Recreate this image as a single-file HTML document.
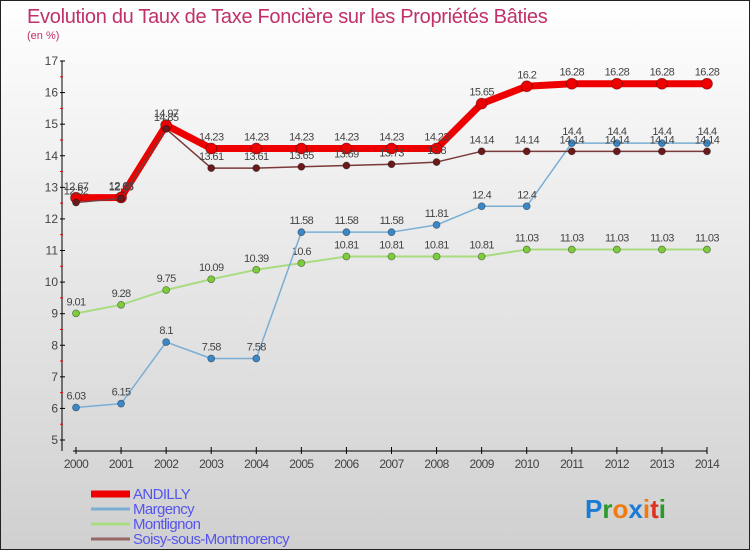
<!DOCTYPE html>
<html><head><meta charset="utf-8"><style>
body{margin:0;}
#c{width:750px;height:550px;position:relative;box-sizing:border-box;border:1px solid #222;background:linear-gradient(#ffffff,#f0f0f0 30%,#d0d0d0);font-family:"Liberation Sans",sans-serif;overflow:hidden}
</style></head><body>
<div id="c">
<svg id="s" width="750" height="550"></svg>
</div>
<script>
const years=[2000,2001,2002,2003,2004,2005,2006,2007,2008,2009,2010,2011,2012,2013,2014];
const yTicks=[5,6,7,8,9,10,11,12,13,14,15,16,17];
const andilly=[12.67,12.68,14.97,14.23,14.23,14.23,14.23,14.23,14.23,15.65,16.2,16.28,16.28,16.28,16.28];
const margency=[6.03,6.15,8.1,7.58,7.58,11.58,11.58,11.58,11.81,12.4,12.4,14.4,14.4,14.4,14.4];
const montlignon=[9.01,9.28,9.75,10.09,10.39,10.6,10.81,10.81,10.81,10.81,11.03,11.03,11.03,11.03,11.03];
const soisy=[12.52,12.65,14.85,13.61,13.61,13.65,13.69,13.73,13.8,14.14,14.14,14.14,14.14,14.14,14.14];
const NS="http://www.w3.org/2000/svg";
const svg=document.getElementById('s');
const X=i=>75+i*(706-75)/14;
const Y=v=>439-(v-5)*(439-60)/12;
function el(t,a,p){const e=document.createElementNS(NS,t);for(const k in a)e.setAttribute(k,a[k]);(p||svg).appendChild(e);return e;}
const FONT='"Liberation Sans",sans-serif';
let t=el('text',{x:26,y:22,'font-size':20,fill:'#c0306a','font-family':FONT,'letter-spacing':'-0.3'});t.textContent='Evolution du Taux de Taxe Foncière sur les Propriétés Bâties';


t=el('text',{x:26,y:38,'font-size':11,fill:'#c0306a','font-family':FONT});t.textContent='(en %)';


let a=el('line',{x1:61,y1:60,x2:61,y2:450,stroke:'#000'});


a=el('line',{x1:72,y1:450,x2:706,y2:450,stroke:'#000'});


yTicks.forEach(v=>{
 el('line',{x1:59,x2:64,y1:Y(v),y2:Y(v),stroke:'#000'});
 if(v<17){el('line',{x1:59,x2:62,y1:Y(v+0.5),y2:Y(v+0.5),stroke:'#e00'});}
 const l=el('text',{x:57,y:Y(v)+4,'font-size':12,fill:'#444','text-anchor':'end','font-family':FONT});l.textContent=v;
 
 
});
years.forEach((y,i)=>{
 el('line',{x1:X(i),x2:X(i),y1:446,y2:453,stroke:'#000'});
 const l=el('text',{x:X(i),y:467,'font-size':12,fill:'#444','text-anchor':'middle','font-family':FONT,'letter-spacing':'-0.6'});l.textContent=y;
 
 
});
function series(data,color,w,r,name,dot){
 const g=el('g',{});
 
 
 el('polyline',{points:data.map((v,i)=>X(i)+','+Y(v)).join(' '),fill:'none',stroke:color,'stroke-width':w,'stroke-linejoin':'round'},g);
 data.forEach((v,i)=>{
  const c=el('circle',{cx:X(i),cy:Y(v),r:r,fill:dot,stroke:'rgba(0,0,0,0.4)','stroke-width':0.8},g);
  
  
  const l=el('text',{x:X(i),y:Y(v)-8,'font-size':11,fill:'#444','text-anchor':'middle','font-family':FONT,'letter-spacing':'-0.6'},g);l.textContent=v;
  
  
 });
}
series(montlignon,'#a8dc80',2,3.5,'montlignon','#7ccc3c');
series(margency,'#7aaed4',1.5,3.5,'margency','#3a88c8');
series(andilly,'#ee0000',7,5.5,'andilly','#ee0000');
series(soisy,'#7a3a3a',1.5,3.5,'soisy','#6a1a1a');
const leg=[['ANDILLY','#ee0000',7],['Margency','#7aaed4',3],['Montlignon','#a8dc80',3],['Soisy-sous-Montmorency','#996666',3]];
leg.forEach((d,i)=>{
 const g=el('g',{});
 
 
 const y=493+i*15;
 el('line',{x1:90,x2:129,y1:y,y2:y,stroke:d[1],'stroke-width':d[2]},g);
 const l=el('text',{x:132,y:y+5,'font-size':15,fill:'#5555ee','font-family':FONT,'letter-spacing':'-0.6'},g);l.textContent=d[0];
});
const lg=el('text',{x:584,y:517,'font-size':26,'font-family':FONT,'font-weight':'bold'});


[['P','#1a7ad4'],['r','#2a9a2a'],['o','#f07a10'],['x','#1a7ad4'],['i','#f07a10'],['t','#e03020'],['i','#2a9a2a']].forEach(c=>{const s=el('tspan',{fill:c[1]},lg);s.textContent=c[0];});
</script>
</body></html>
